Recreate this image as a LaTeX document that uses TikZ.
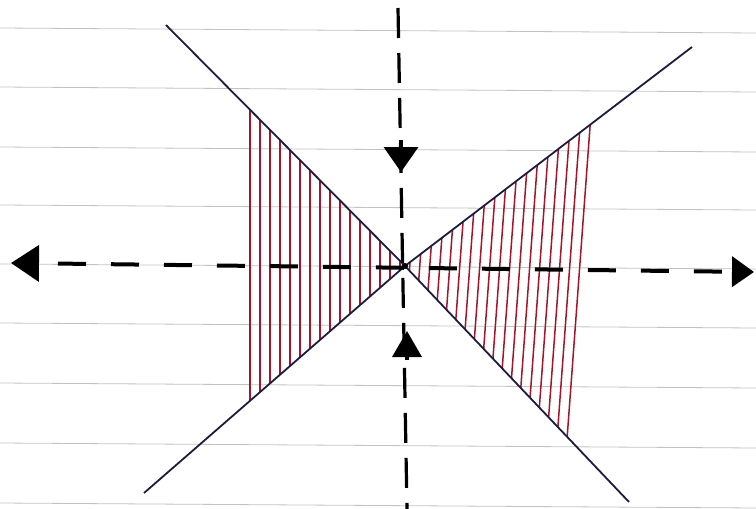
\documentclass[tikz,border=0pt]{standalone}
\usepackage{tikz}
\usetikzlibrary{arrows.meta}

\definecolor{inkblue}{RGB}{28,28,62}
\definecolor{hatchred}{RGB}{165,20,40}
\definecolor{paperline}{RGB}{195,195,195}

\begin{document}
\begin{tikzpicture}[x=1pt,y=-1pt,
		axis/.style={line width=4pt, line cap=butt},
		asym/.style={inkblue, line width=1.8pt},
		hatch/.style={hatchred, line width=1.5pt},
		tip/.style={-{Triangle[length=25pt,width=34pt]}, line width=3.6pt}]
			\useasboundingbox (0,0) rectangle (756,509);
			% ruled paper
			\foreach \y in {28,87,147,205,264,323,383,443,503}
				\draw[paperline, line width=0.8pt] (0,\y) -- (756,\y+5);
			% points
			\coordinate (O) at (405,266);
			\coordinate (L) at (11,263);
			\coordinate (R) at (754,272);
			\coordinate (T) at (398,8);
			\coordinate (B) at (407,509);
			% shaded sectors
			\begin{scope}
				\clip (O) -- (248,108) -- (248,403) -- cycle;
				\foreach \x in {250,260,...,400}
					\draw[hatch] (\x,100) -- (\x,410);
			\end{scope}
			\begin{scope}
				\clip (O) -- (594,122) -- (571,441) -- cycle;
				\foreach \x in {412,422,...,592}
					\draw[hatch] (\x,100) -- (\x-28,480);
			\end{scope}
			% asymptotes
			\draw[asym] (166,25) -- (O) -- (629,502);
			\draw[asym] (144,493) -- (O) -- (692,47);
			% axes
			\draw[axis, dash pattern=on 28pt off 25pt, dash phase=-20pt,
				{Triangle[length=28pt,width=36pt]}-{Triangle[length=22pt,width=30pt]}] (L) -- (R);
			\draw[axis, line width=3.2pt, dash pattern=on 30pt off 15pt] (T) -- (B);
			\draw[tip] (401,140) -- (401,172);
			\draw[tip, -{Triangle[length=26pt,width=29pt]}] (407,360) -- (407,331);
			\fill (O) circle (3pt);
		\end{tikzpicture}
\end{document}
